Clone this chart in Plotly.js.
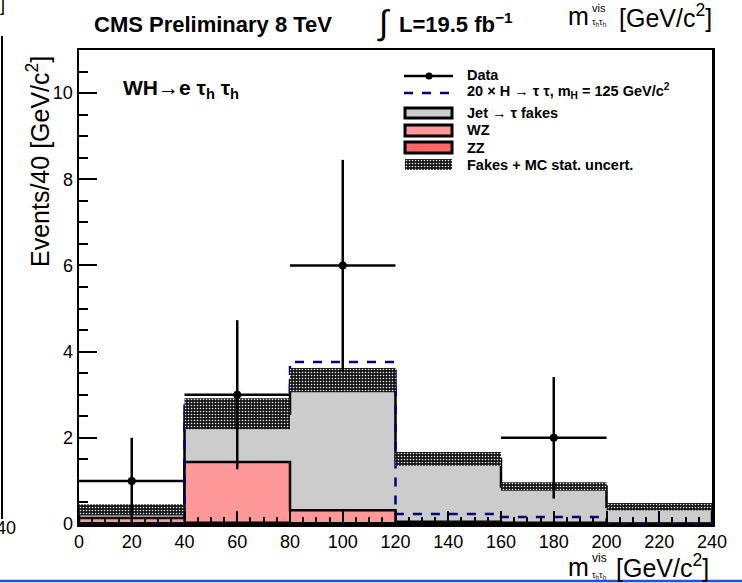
<!DOCTYPE html>
<html><head><meta charset="utf-8">
<script src="https://cdn.plot.ly/plotly-3.0.1.min.js"></script>
<style>html,body{margin:0;padding:0;background:#fff}#chart{width:742px;height:583px}</style>
</head><body><div id="chart"></div>
<script>
// ---- data ----
const binEdges = [0, 40, 80, 120, 160, 200, 240];
const binCenters = [20, 60, 100, 140, 180, 220];
const zzValues = [0.02, 0.03, 0.02, 0.02, 0.01, 0.0];
const wzValues = [0.12, 1.41, 0.30, 0.03, 0.02, 0.01];
const fakesValues = [0.19, 1.12, 3.02, 1.46, 0.84, 0.39];
const uncertValues = [0.13, 0.36, 0.28, 0.16, 0.10, 0.085];
const signalValues = [0, 2.85, 3.76, 0.23, 0.16, 0];
const dataX = [20, 60, 100, 180];
const dataY = [1, 3, 6, 2];
const dataErr = [1.0, 1.73, 2.45, 1.41];
const dataXErr = [20, 20, 20, 20];
const xTickVals = [0, 20, 40, 60, 80, 100, 120, 140, 160, 180, 200, 220, 240];
const yTickVals = [0, 2, 4, 6, 8, 10];

// ---- helpers ----
const FONT = 'Liberation Sans, Arial, Helvetica, sans-serif';
function cum(...arrs){ return arrs[0].map((_, i) => arrs.reduce((s, a) => s + a[i], 0)); }
function step(vals){
  const x = [binEdges[0]], y = [0];
  for (let i = 0; i < vals.length; i++){ x.push(binEdges[i]); y.push(vals[i]); }
  x.push(binEdges[vals.length]); y.push(vals[vals.length - 1]);
  x.push(binEdges[vals.length]); y.push(0);
  return {x, y};
}
function bandPoly(center, err){
  const x = [], y = [];
  for (let i = 0; i < center.length; i++){
    x.push(binEdges[i], binEdges[i + 1]); y.push(center[i] + err[i], center[i] + err[i]);
  }
  for (let i = center.length - 1; i >= 0; i--){
    x.push(binEdges[i + 1], binEdges[i]); y.push(center[i] - err[i], center[i] - err[i]);
  }
  x.push(x[0]); y.push(y[0]);
  return {x, y};
}
const L = 79, R = 712, T = 50, B = 524;
const px = X => (X - L) / (R - L);
const py = Y => (B - Y) / (B - T);

const c1 = cum(zzValues);
const c2 = cum(zzValues, wzValues);
const c3 = cum(zzValues, wzValues, fakesValues);

const sFake = step(c3), sWZ = step(c2), sZZ = step(c1), sSig = step(signalValues);
const band = bandPoly(c3, uncertValues);
const hatch = {shape:'.', fgcolor:'#e6e6e6', bgcolor:'#161616', size:3, solidity:0.22, fillmode:'replace'};

const traces = [
  {type:'scatter', x:sFake.x, y:sFake.y, mode:'lines', line:{shape:'hv', color:'black', width:2.5}, fill:'toself', fillcolor:'#cccccc', hoverinfo:'skip', showlegend:false},
  {type:'scatter', x:sWZ.x, y:sWZ.y, mode:'lines', line:{shape:'hv', color:'black', width:2.5}, fill:'toself', fillcolor:'#ff9999', hoverinfo:'skip', showlegend:false},
  {type:'scatter', x:sZZ.x, y:sZZ.y, mode:'lines', line:{shape:'hv', color:'black', width:2.5}, fill:'toself', fillcolor:'#ff6666', hoverinfo:'skip', showlegend:false},
  {type:'scatter', x:sSig.x, y:sSig.y, mode:'lines', line:{shape:'hv', color:'#000080', width:2.5, dash:'dash'}, hoverinfo:'skip', showlegend:false},
  {type:'scatter', x:band.x, y:band.y, mode:'lines', line:{width:0, color:'rgba(0,0,0,0)'}, fill:'toself', fillcolor:'#1a1a1a',
   fillpattern:hatch, hoverinfo:'skip', showlegend:false},
  {type:'scatter', x:dataX, y:dataY, mode:'markers', marker:{color:'black', size:8},
   error_y:{type:'data', array:dataErr, color:'black', thickness:2.5, width:0},
   error_x:{type:'data', array:dataXErr, color:'black', thickness:2.5, width:0}, showlegend:false},
  // legend swatch for uncertainty band
  {type:'bar', x:[0], y:[1], width:1, xaxis:'x2', yaxis:'y2',
   marker:{color:'#1a1a1a', line:{width:0}, pattern:hatch}, hoverinfo:'skip', showlegend:false}
];

const shapes = [
  {type:'line', xref:'paper', yref:'paper', x0:px(404), x1:px(453), y0:py(76), y1:py(76), line:{color:'black', width:2.5}},
  {type:'circle', xref:'paper', yref:'paper', x0:px(425.5), x1:px(432.5), y0:py(79.5), y1:py(72.5), fillcolor:'black', line:{color:'black', width:0}},
  {type:'line', xref:'paper', yref:'paper', x0:px(404), x1:px(453), y0:py(93), y1:py(93), line:{color:'#000080', width:2.5, dash:'dash'}},
  {type:'rect', xref:'paper', yref:'paper', x0:px(405), x1:px(452), y0:py(118), y1:py(108), fillcolor:'#cccccc', line:{color:'black', width:3}},
  {type:'rect', xref:'paper', yref:'paper', x0:px(405), x1:px(452), y0:py(136), y1:py(125), fillcolor:'#ff9999', line:{color:'black', width:3}},
  {type:'rect', xref:'paper', yref:'paper', x0:px(405), x1:px(452), y0:py(153), y1:py(142), fillcolor:'#ff6666', line:{color:'black', width:3}},
  {type:'line', xref:'paper', yref:'paper', x0:px(2), x1:px(2), y0:py(36), y1:py(519), line:{color:'black', width:2}},
  {type:'line', xref:'paper', yref:'paper', x0:px(0), x1:px(742), y0:py(581), y1:py(581), line:{color:'#1f4fe8', width:2.5}}
];

function ann(text, X, Y, size, opts){
  return Object.assign({text, xref:'paper', yref:'paper', x:px(X), y:py(Y), xanchor:'left', yanchor:'middle',
    showarrow:false, font:{family:FONT, size, color:'black'}}, opts || {});
}

const annotations = [
  ann('<b>CMS Preliminary 8 TeV</b>', 92, 24, 22),
  ann('∫', 375, 22, 34),
  ann('<b>L=19.5 fb<sup>−1</sup></b>', 397, 23, 22),
  // top-right fragment title
  ann('m', 566, 16, 25),
  ann('vis', 590, 8, 11),
  ann('τ<sub>h</sub>τ<sub>h</sub>', 590, 22, 9),
  ann('[GeV/c<sup>2</sup>]', 617, 16, 25),
  // left fragment
  ann(']', -2, 5, 18),
  ann('40', -6, 528, 18),
  // channel label
  ann('<b>WH→e τ<sub>h</sub> τ<sub>h</sub></b>', 121, 89, 21),
  // legend texts
  ann('<b>Data</b>', 465, 75, 14.5),
  ann('<b>20 × H → τ τ, m<sub>H</sub> = 125 GeV/c<sup>2</sup></b>', 465, 91, 14.5),
  ann('<b>Jet → τ fakes</b>', 465, 113, 14.5),
  ann('<b>WZ</b>', 465, 130, 14.5),
  ann('<b>ZZ</b>', 465, 148, 14.5),
  ann('<b>Fakes + MC stat. uncert.</b>', 465, 165, 14.5),
  // x-axis title
  ann('m', 566, 567, 25),
  ann('vis', 590, 558, 12),
  ann('τ<sub>h</sub>τ<sub>h</sub>', 590, 575, 9),
  ann('[GeV/c<sup>2</sup>]', 614, 566, 25),
  // y-axis title
  {text:'Events/40 [GeV/c<sup>2</sup>]', xref:'paper', yref:'paper', x:px(38), y:py(162), xanchor:'center', yanchor:'middle',
   textangle:-90, showarrow:false, font:{family:FONT, size:25, color:'black'}}
];

const layout = {
  width:742, height:583,
  margin:{l:L, r:742 - R, t:T, b:583 - B},
  paper_bgcolor:'white', plot_bgcolor:'white',
  barmode:'overlay', bargap:0,
  showlegend:false,
  font:{family:FONT, color:'black'},
  xaxis:{range:[0, 240], tickvals:xTickVals, ticktext:xTickVals.map(String), ticks:'inside', ticklen:13, tickwidth:2, tickcolor:'black',
    showline:true, linewidth:2.5, linecolor:'black', mirror:true, showgrid:false, zeroline:false,
    tickfont:{family:FONT, size:18}, minor:{dtick:5, ticks:'inside', ticklen:7, tickwidth:2, tickcolor:'black'}},
  yaxis:{range:[0, 11], tickvals:yTickVals, ticktext:yTickVals.map(String), ticks:'inside', ticklen:18, tickwidth:2, tickcolor:'black',
    showline:true, linewidth:2.5, linecolor:'black', mirror:true, showgrid:false, zeroline:false,
    tickfont:{family:FONT, size:18}, minor:{dtick:0.5, ticks:'inside', ticklen:9, tickwidth:2, tickcolor:'black'}},
  xaxis2:{domain:[px(405), px(452)], range:[-0.5, 0.5], visible:false, anchor:'y2', fixedrange:true},
  yaxis2:{domain:[py(170), py(159)], range:[0, 1], visible:false, anchor:'x2', fixedrange:true},
  shapes, annotations
};

Plotly.newPlot('chart', traces, layout, {displayModeBar:false, staticPlot:true});
</script>
</body></html>
